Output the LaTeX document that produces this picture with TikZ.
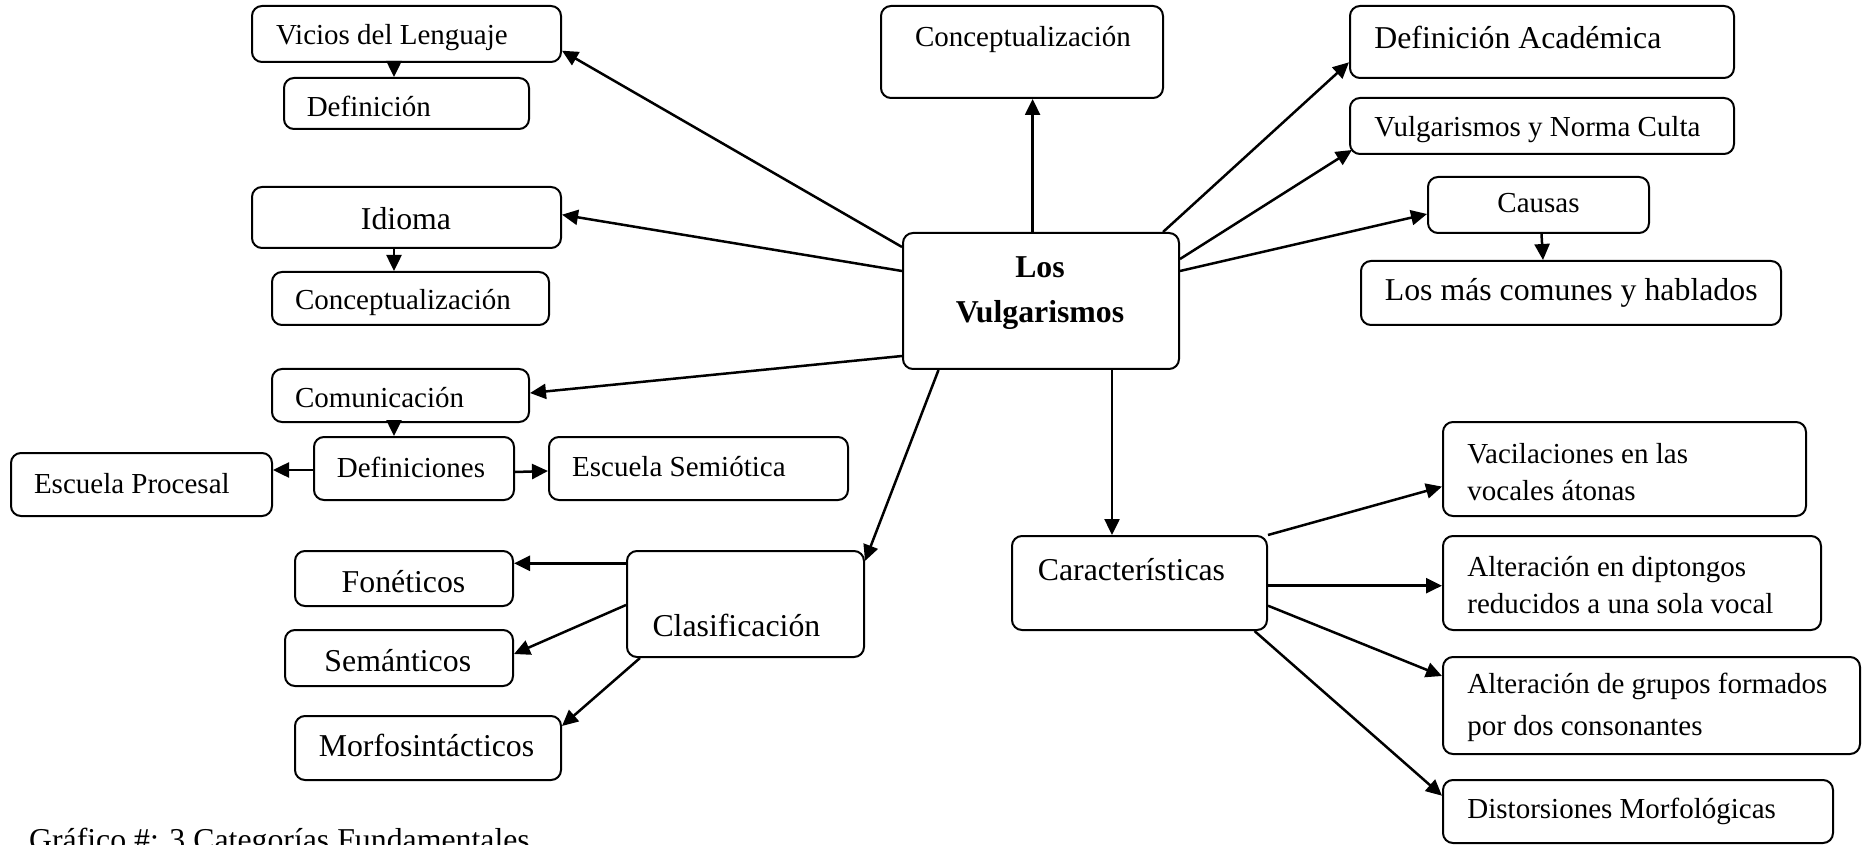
\documentclass[tikz,border=0pt]{standalone}
\usepackage{fontspec}
\setmainfont{Liberation Serif}
\usetikzlibrary{arrows.meta,fit,calc}
\newcommand\bx[5]{\node[box,fit={(#2,#3)(#4,#5)}] (#1) {};}
\begin{document}
\begin{tikzpicture}[x=0.5pt,y=-0.5pt,
  box/.style={draw,rounded corners=5pt,line width=1pt,inner sep=0pt},
  sm/.style={font=\fontsize{14.5}{17}\selectfont,inner sep=0pt,anchor=base west},
  lg/.style={font=\fontsize{15.9}{19}\selectfont,inner sep=0pt,anchor=base west},
  arr/.style={line width=1.25pt,-{Triangle[length=8pt,width=7.5pt]}}]
\clip (0,0) rectangle (1864,845);
% boxes
\bx{vicios}{252}{6}{561}{62}
\bx{defin}{284}{78}{529}{129}
\bx{idioma}{252}{187}{561}{248}
\bx{concL}{272}{272}{549}{325}
\bx{concT}{881}{6}{1163}{98}
\bx{center}{903}{233}{1179}{369}
\bx{defac}{1350}{6}{1734}{78}
\bx{vnc}{1350}{98}{1734}{154}
\bx{causas}{1428}{177}{1649}{233}
\bx{losmas}{1361}{261}{1781}{325}
\bx{comun}{272}{369}{529}{422}
\bx{defs}{314}{437}{514}{500}
\bx{escp}{11}{453}{272}{516}
\bx{escs}{549}{437}{848}{500}
\bx{fon}{295}{551}{513}{606}
\bx{clas}{627}{551}{864}{657}
\bx{sem}{285}{630}{513}{686}
\bx{morf}{295}{716}{561}{780}
\bx{car}{1012}{536}{1267}{630}
\bx{vac}{1443}{422}{1806}{516}
\bx{altd}{1443}{536}{1821}{630}
\bx{altg}{1443}{657}{1860}{754}
\bx{dist}{1443}{780}{1833}{843}
% texts
\node[sm] (t-vicios) at (275.6,45) {Vicios del Lenguaje};
\node[sm] (t-defin) at (306.4,116.7) {Definición};
\node[lg,anchor=base] (t-idioma) at (406,230) {Idioma};
\node[sm] (t-concL) at (294.6,310) {Conceptualización};
\node[sm] (t-concT) at (914.6,46.7) {Conceptualización};
\node[lg,anchor=base,font=\fontsize{15.9}{19}\selectfont\bfseries] (t-los) at (1040,278) {Los};
\node[lg,anchor=base,font=\fontsize{15.9}{19}\selectfont\bfseries] (t-vulg) at (1040,322) {Vulgarismos};
\node[lg] (t-defac) at (1374,49) {Definición Académica};
\node[sm] (t-vnc) at (1374,137) {Vulgarismos y Norma Culta};
\node[sm,anchor=base] (t-causas) at (1538.5,213) {Causas};
\node[lg] (t-losmas) at (1384.5,300) {Los más comunes y hablados};
\node[sm] (t-comun) at (294.6,408) {Comunicación};
\node[sm,anchor=base] (t-defs) at (411,477) {Definiciones};
\node[sm] (t-escp) at (33.6,493) {Escuela Procesal};
\node[sm] (t-escs) at (571.8,476) {Escuela Semiótica};
\node[lg,anchor=base] (t-fon) at (403.5,592) {Fonéticos};
\node[lg,anchor=base] (t-clas) at (736.4,636.7) {Clasificación};
\node[lg,anchor=base] (t-sem) at (397.8,671.7) {Semánticos};
\node[lg,anchor=base] (t-morf) at (426.5,756.7) {Morfosintácticos};
\node[lg] (t-car) at (1037.5,580) {Características};
\node[sm] (t-vac1) at (1467,463.3) {Vacilaciones en las};
\node[sm] (t-vac2) at (1467,500) {vocales átonas};
\node[sm] (t-altd1) at (1467,576.7) {Alteración en diptongos};
\node[sm] (t-altd2) at (1467,613.3) {reducidos a una sola vocal};
\node[sm] (t-altg1) at (1467,693.3) {Alteración de grupos formados};
\node[sm] (t-altg2) at (1467,735) {por dos consonantes};
\node[sm] (t-dist) at (1467,818.3) {Distorsiones Morfológicas};
\node[lg] (caption) at (28.7,850) {Gráfico \#: 3 Categorías Fundamentales};
% connectors from center
\draw[arr] ($(center.north west)+(0,15)$) -- ($(vicios.north east)+(0,45.7)$);
\draw[arr] ($(center.north west)+(0,39)$) -- ($(idioma.north east)+(0,28.7)$);
\draw[arr] ($(center.north west)+(0,124)$) -- ($(comun.north east)+(0,25)$);
\draw[arr] ($(center.south west)+(36.5,0)$) -- ($(clas.north east)+(0,11)$);
\draw[arr] ($(center.south west)+(210,0)$) coordinate (c1) -- (c1 |- car.north);
\draw[arr] ($(center.north west)+(130.6,0)$) coordinate (c2) -- (c2 |- concT.south);
\draw[arr] ($(center.north east)+(-17,0)$) -- ($(defac.north west)+(0,57.3)$);
\draw[arr] ($(center.north east)+(0,27)$) -- ($(vnc.south west)+(3,-5)$);
\draw[arr] ($(center.north east)+(0,39)$) -- ($(causas.north west)+(0,38)$);
% secondary connectors
\draw[arr] ($(causas.south west)+(114.5,0)$) -- ($(losmas.north west)+(183,0)$);
\draw[arr] ($(vicios.south west)+(143,0)$) coordinate (c3) -- (c3 |- defin.north);
\draw[arr] ($(idioma.south west)+(143,0)$) coordinate (c4) -- (c4 |- concL.north);
\draw[arr] ($(comun.south west)+(123,0)$) coordinate (c5) -- (c5 |- defs.north);
\draw[arr] ($(defs.north west)+(0,34)$) coordinate (c6) -- (c6 -| escp.east);
\draw[arr] ($(defs.north east)+(0,36)$) -- ($(escs.north west)+(0,35)$);
\draw[arr] ($(clas.north west)+(0,13.3)$) coordinate (c7) -- (c7 -| fon.east);
\draw[arr] ($(clas.north west)+(0,55)$) -- ($(sem.north east)+(0,25)$);
\draw[arr] ($(clas.south west)+(14,0)$) -- ($(morf.north east)+(0,11)$);
\draw[arr] (car.north east) -- ($(vac.north west)+(0,65.6)$);
\draw[arr] ($(car.north east)+(0,50.7)$) coordinate (c8) -- (c8 -| altd.west);
\draw[arr] ($(car.north east)+(0,70.7)$) -- ($(altg.north west)+(0,20)$);
\draw[arr] ($(car.south east)+(-13.5,0)$) -- ($(dist.north west)+(0,16.7)$);
\end{tikzpicture}
\end{document}
